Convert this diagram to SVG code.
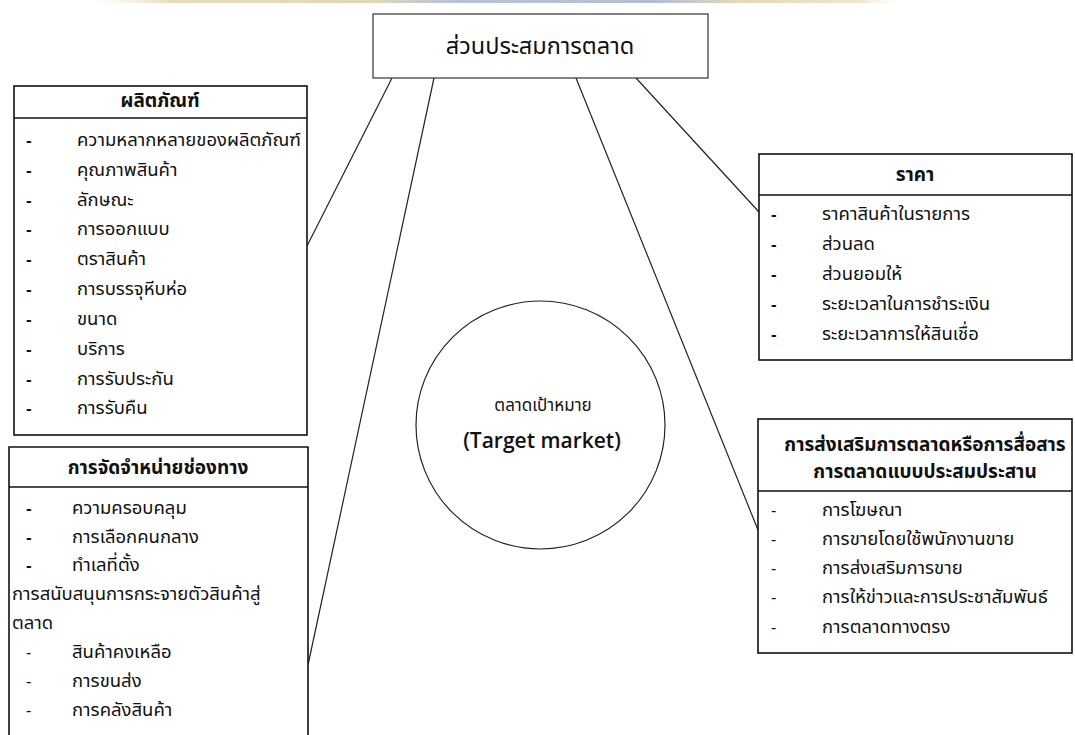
<svg xmlns="http://www.w3.org/2000/svg" width="1075" height="735" viewBox="0 0 1075 735">
<defs>
<linearGradient id="wm" x1="0" y1="0" x2="1" y2="0">
<stop offset="0" stop-color="#f4ecd8" stop-opacity="0"/>
<stop offset="0.1" stop-color="#eadcb8"/>
<stop offset="0.35" stop-color="#e2d6b4"/>
<stop offset="0.45" stop-color="#b4c2dc"/>
<stop offset="0.7" stop-color="#b0bfdc"/>
<stop offset="0.8" stop-color="#e6d8b0"/>
<stop offset="0.95" stop-color="#efe6cc"/>
<stop offset="1" stop-color="#f4ecd8" stop-opacity="0"/>
</linearGradient>
</defs>
<style>
.box{fill:#fff;stroke:#111;stroke-width:1.6}
.sep{stroke:#111;stroke-width:1.4}
.con{stroke:#222;stroke-width:1.2;fill:none}
.t{font-family:"Noto Sans Thai","Tahoma","Noto Sans",sans-serif;font-size:18.5px;fill:#111;dominant-baseline:central}
.h{font-weight:bold;text-anchor:middle;font-size:19px}
.d{font-family:"Liberation Sans",sans-serif;font-size:17px;fill:#111;dominant-baseline:central;font-weight:bold}
.dn{font-family:"Liberation Sans",sans-serif;font-size:16px;fill:#111;dominant-baseline:central}
</style>
<rect width="1075" height="735" fill="#fff"/>
<rect x="90" y="0" width="810" height="3" fill="url(#wm)"/>
<g id="connectors">
<line class="con" x1="392" y1="78" x2="307" y2="246"/>
<line class="con" x1="434" y1="78" x2="308" y2="665"/>
<line class="con" x1="576" y1="78" x2="758" y2="530"/>
<line class="con" x1="636" y1="78" x2="759" y2="212"/>
</g>
<g id="mix">
<rect class="box" x="373" y="14" width="335" height="64" style="stroke:#333;stroke-width:1.2"/>
<text class="t" x="540" y="47" text-anchor="middle" style="font-size:23.5px">ส่วนประสมการตลาด</text>
</g>
<g id="product">
<rect class="box" x="14" y="86" width="293" height="349"/>
<line class="sep" x1="14" y1="118" x2="307" y2="118"/>
<text class="t h" x="160" y="101">ผลิตภัณฑ์</text>
<text class="d" x="26" y="140">-</text><text class="t" x="77" y="140">ความหลากหลายของผลิตภัณฑ์</text>
<text class="d" x="26" y="170">-</text><text class="t" x="77" y="170">คุณภาพสินค้า</text>
<text class="d" x="26" y="200">-</text><text class="t" x="77" y="200">ลักษณะ</text>
<text class="d" x="26" y="229">-</text><text class="t" x="77" y="229">การออกแบบ</text>
<text class="d" x="26" y="259">-</text><text class="t" x="77" y="259">ตราสินค้า</text>
<text class="d" x="26" y="289">-</text><text class="t" x="77" y="289">การบรรจุหีบห่อ</text>
<text class="d" x="26" y="319">-</text><text class="t" x="77" y="319">ขนาด</text>
<text class="d" x="26" y="349">-</text><text class="t" x="77" y="349">บริการ</text>
<text class="d" x="26" y="379">-</text><text class="t" x="77" y="379">การรับประกัน</text>
<text class="d" x="26" y="408">-</text><text class="t" x="77" y="408">การรับคืน</text>
</g>
<g id="price">
<rect class="box" x="759" y="154" width="313" height="206"/>
<line class="sep" x1="759" y1="195" x2="1072" y2="195"/>
<text class="t h" x="915" y="175">ราคา</text>
<text class="d" x="771" y="214">-</text><text class="t" x="822" y="214">ราคาสินค้าในรายการ</text>
<text class="d" x="771" y="244">-</text><text class="t" x="822" y="244">ส่วนลด</text>
<text class="d" x="771" y="274">-</text><text class="t" x="822" y="274">ส่วนยอมให้</text>
<text class="d" x="771" y="304">-</text><text class="t" x="822" y="304">ระยะเวลาในการชำระเงิน</text>
<text class="d" x="771" y="334">-</text><text class="t" x="822" y="334">ระยะเวลาการให้สินเชื่อ</text>
</g>
<g id="target">
<ellipse cx="540.5" cy="425" rx="124.5" ry="124" fill="#fff" stroke="#222" stroke-width="1.2"/>
<text class="t" x="543" y="406" text-anchor="middle" style="font-size:17px">ตลาดเป้าหมาย</text>
<text x="542" y="440" text-anchor="middle" dominant-baseline="central" style="font-family:'Open Sans','Noto Sans',sans-serif;font-size:21px;font-weight:600;fill:#111">(Target market)</text>
</g>
<g id="promotion">
<rect class="box" x="758" y="419" width="314" height="234"/>
<line class="sep" x1="758" y1="491" x2="1072" y2="491"/>
<text class="t h" x="925" y="445">การส่งเสริมการตลาดหรือการสื่อสาร</text>
<text class="t h" x="925" y="472">การตลาดแบบประสมประสาน</text>
<text class="dn" x="771" y="510">-</text><text class="t" x="822" y="510">การโฆษณา</text>
<text class="dn" x="771" y="539">-</text><text class="t" x="822" y="539">การขายโดยใช้พนักงานขาย</text>
<text class="dn" x="771" y="568">-</text><text class="t" x="822" y="568">การส่งเสริมการขาย</text>
<text class="dn" x="771" y="597">-</text><text class="t" x="822" y="597">การให้ข่าวและการประชาสัมพันธ์</text>
<text class="dn" x="771" y="627">-</text><text class="t" x="822" y="627">การตลาดทางตรง</text>
</g>
<g id="distribution">
<path class="box" d="M9,740 V447 H308 V740"/>
<line class="sep" x1="9" y1="487" x2="308" y2="487"/>
<text class="t h" x="158" y="468">การจัดจำหน่ายช่องทาง</text>
<text class="d" x="26" y="508">-</text><text class="t" x="72" y="508">ความครอบคลุม</text>
<text class="d" x="26" y="537">-</text><text class="t" x="72" y="537">การเลือกคนกลาง</text>
<text class="d" x="26" y="565">-</text><text class="t" x="72" y="565">ทำเลที่ตั้ง</text>
<text class="t" x="12" y="594">การสนับสนุนการกระจายตัวสินค้าสู่</text>
<text class="t" x="12" y="623">ตลาด</text>
<text class="dn" x="26" y="652">-</text><text class="t" x="72" y="652">สินค้าคงเหลือ</text>
<text class="dn" x="26" y="681">-</text><text class="t" x="72" y="681">การขนส่ง</text>
<text class="dn" x="26" y="710">-</text><text class="t" x="72" y="710">การคลังสินค้า</text>
</g>
</svg>
